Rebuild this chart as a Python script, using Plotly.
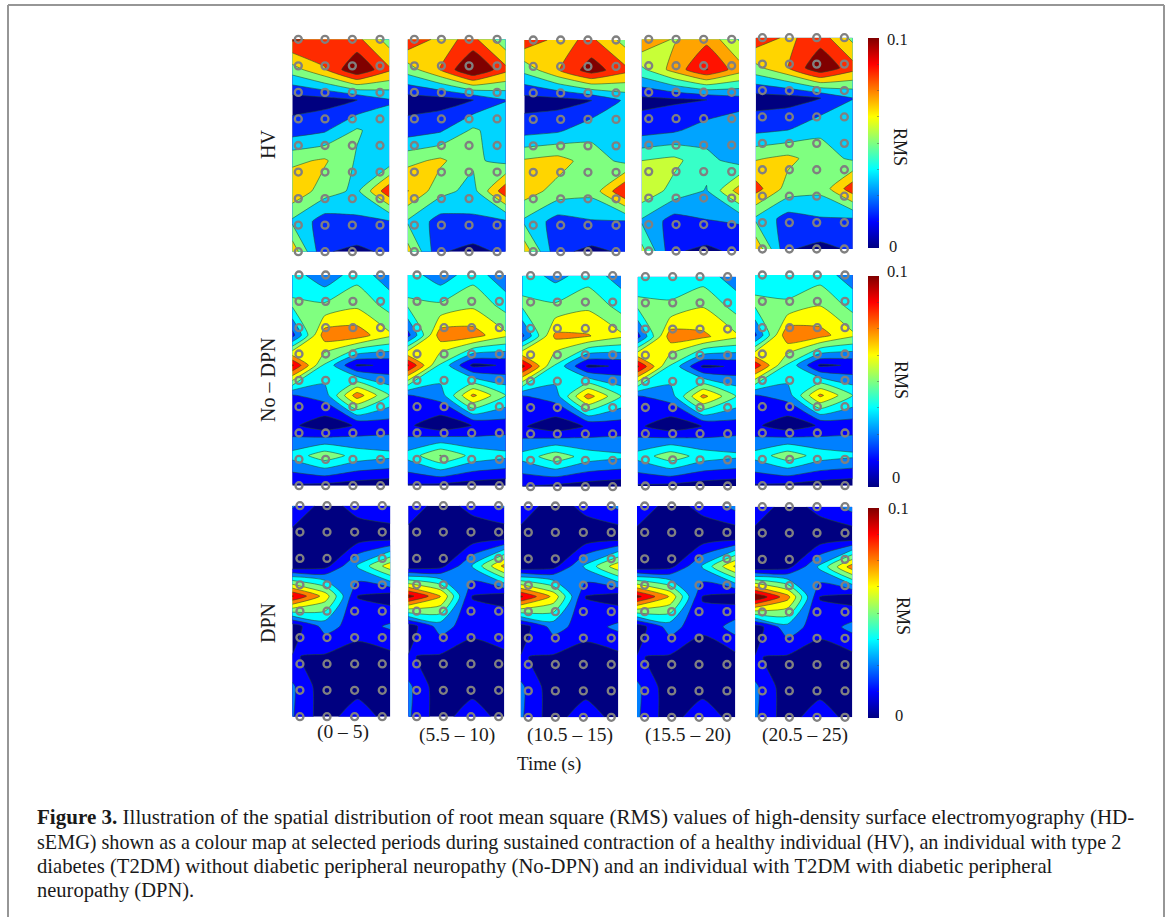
import plotly.graph_objects as go

W, H = 1170, 917

# RMS values x 1000, rows top to bottom, 4 grid columns
HV_0_5 = [[103,95,88,59],[59,82,116,86],[8,10,16,32],[25,31,52,40],[63,69,48,39],[80,58,46,96],[47,25,30,32],[78,18,13,20]]
HV_5_10 = [[97,78,88,55],[58,84,120,88],[8,9,16,33],[25,31,53,39],[62,70,53,45],[84,56,44,95],[48,26,30,31],[74,18,12,20]]
HV_10_15 = [[95,78,87,60],[55,82,109,88],[9,10,16,36],[27,31,45,41],[69,74,58,46],[75,60,55,100],[47,26,32,32],[78,20,13,19]]
HV_15_20 = [[84,70,82,56],[54,77,101,78],[10,12,14,22],[22,26,36,39],[57,61,47,37],[68,52,42,78],[41,22,28,30],[62,16,11,18]]
HV_20_25 = [[94,80,92,62],[62,83,115,90],[9,10,16,33],[27,31,46,40],[65,71,58,47],[90,60,55,94],[47,26,32,32],[80,18,12,19]]

NO_0_5 = [[44,28,45,30],[52,52,60,45],[20,82,82,65],[102,48,11,14],[24,31,82,50],[15,4,14,18],[42,58,45,41],[11,9,6,4]]
NO_5_10 = [[44,30,45,28],[52,52,60,45],[20,82,81,65],[102,48,9,14],[24,31,78,50],[15,3,13,18],[42,63,46,41],[11,9,6,4]]
NO_10_15 = [[46,33,44,32],[52,52,60,45],[22,78,76,65],[104,48,10,14],[24,31,81,50],[14,4,14,18],[42,58,44,40],[12,9,6,4]]
NO_15_20 = [[46,43,44,31],[52,52,62,45],[20,82,78,65],[102,48,10,14],[24,31,79,50],[15,4,13,18],[42,58,44,40],[11,9,6,4]]
NO_20_25 = [[46,42,44,31],[52,52,62,45],[22,85,80,65],[96,48,10,14],[24,31,78,50],[15,4,14,18],[42,58,44,40],[11,9,6,4]]

DPN_0_5 = [[27,6,18,26],[7,5,4,3],[3,8,39,70],[101,70,12,6],[5,30,19,27],[13,11,6,9],[27,4,5,5],[26,5,23,5]]
DPN_5_10 = [[22,6,17,27],[7,5,3,3],[3,8,38,79],[105,77,12,6],[5,31,17,24.5],[13,11,6,9],[28,4,5,5],[27,5,23,5]]
DPN_10_15 = [[22,5,17,28],[7,5,3,3],[3,8,40,71],[102,72,12,6],[5,30,19,28],[13,11,6,9],[28,4,5,5],[27,5,23,5]]
DPN_15_20 = [[24,6,17,29],[7,5,3,3],[3,8,39,77],[104,74,12,6],[5,31,15,31],[13,11,6,9],[28,4,5,5],[27,5,24,5]]
DPN_20_25 = [[22,6,17,30],[7,5,3,3],[3,8,40,82],[112,80,12,6],[5,33,17,29],[13,11,6,9],[28,4,5,5],[27,5,23,5]]

PANELS = [[HV_0_5, HV_5_10, HV_10_15, HV_15_20, HV_20_25],
          [NO_0_5, NO_5_10, NO_10_15, NO_15_20, NO_20_25],
          [DPN_0_5, DPN_5_10, DPN_10_15, DPN_15_20, DPN_20_25]]

# number of contour bands steps per panel
STEPS = [[6, 6, 6, 7, 6], [8]*5, [8]*5]
SMOOTHING = [0.35, 0.45, 0.6]

# electrode columns (fraction of panel width)
ELECTRODES = [
    [[.062,.337,.619,.904],[.068,.344,.626,.912],[.089,.361,.632,.911],[.072,.353,.637,.925],[.069,.347,.629,.914]],
    [[.069,.344,.625,.910],[.095,.371,.653,.935],[.084,.355,.639,.916],[.078,.356,.634,.915],[.075,.355,.638,.921]],
    [[.078,.354,.636,.918],[.087,.365,.653,.941],[.078,.355,.642,.928],[.078,.353,.631,.915],[.075,.353,.637,.925]],
]
ELECTRODE_ROWS = 9

# panel boxes in pixels: x0, x1, y0, y1
BOXES = [
    [(292.3,389.3,39.3,251.7),(407.7,505.7,39.3,251.7),(524.3,625,40,251.7),(641.7,739,39.3,251),(755.7,852.7,37.7,249)],
    [(292.3,389.3,275,485.7),(407.7,505.7,275,485.7),(522.3,621,275.7,486.7),(637.7,736,276.7,486),(755,852.7,275,485.7)],
    [(292.3,390.3,505.7,716.7),(408.3,504.3,505.7,716.7),(520.7,618.3,506,717.3),(637,735.3,506,717.3),(755,852.3,506.7,717.3)],
]

BAR_BOXES = [(868,879,38,248),(868,879,276,487),(868,879,508,718)]
JET = [[0,'rgb(0,0,128)'],[.125,'rgb(0,0,255)'],[.375,'rgb(0,255,255)'],[.625,'rgb(255,255,0)'],[.875,'rgb(255,0,0)'],[1,'rgb(128,0,0)']]

ROW_LABELS = [("HV",268,145),("No – DPN",268,380),("DPN",268,623)]
TIME_LABELS = [("(0 – 5)",343,732),("(5.5 – 10)",457,735),("(10.5 – 15)",570,735),("(15.5 – 20)",688,735),("(20.5 – 25)",805,735)]
BAR_TOP = [("0.1",897,40),("0.1",897,272),("0.1",898,508)]
BAR_BOTTOM = [("0",893,246),("0",896,478),("0",899,715)]
BAR_TITLE = [("RMS",900,147),("RMS",901,380),("RMS",903,616)]
CAPTION = [
    "<b>Figure 3.</b> Illustration of the spatial distribution of root mean square (RMS) values of high-density surface electromyography (HD-",
    "sEMG) shown as a colour map at selected periods during sustained contraction of a healthy individual (HV), an individual with type 2",
    "diabetes (T2DM) without diabetic peripheral neuropathy (No-DPN) and an individual with T2DM with diabetic peripheral",
    "neuropathy (DPN).",
]
CAPTION_Y = [817, 842, 866, 890]
CAPTION_SIZE = [21.05, 20.2, 20.7, 20.5]

SERIF = "Liberation Serif"
fig = go.Figure()
layout = dict(width=W, height=H, margin=dict(l=0, r=0, t=0, b=0, pad=0),
              paper_bgcolor="white", plot_bgcolor="white", showlegend=False)

def px(x): return x / W
def py(y): return 1 - y / H

k = 0
for r, row in enumerate(PANELS):
    for c, z in enumerate(row):
        k += 1
        x0, x1, y0, y1 = BOXES[r][c]
        sfx = "" if k == 1 else str(k)
        layout["xaxis" + sfx] = dict(domain=[px(x0), px(x1)], range=[0, 3], visible=False, anchor="y" + sfx, fixedrange=True)
        layout["yaxis" + sfx] = dict(domain=[py(y1), py(y0)], range=[7, 0], visible=False, anchor="x" + sfx, fixedrange=True)
        n = STEPS[r][c]
        step = 100 / n
        fig.add_trace(go.Contour(
            z=z, x=[0, 1, 2, 3], y=list(range(8)), xaxis="x" + sfx, yaxis="y" + sfx,
            autocontour=False, colorscale=JET, showscale=False, hoverinfo="skip",
            contours=dict(start=step, end=100 + 1e-6, size=step, coloring="fill"),
            line=dict(color="rgba(35,75,45,0.7)", width=0.8, smoothing=SMOOTHING[r]),
        ))
        ex, ey = [], []
        for i in range(ELECTRODE_ROWS):
            for f in ELECTRODES[r][c]:
                ex.append(3 * f)
                ey.append(7 * i / (ELECTRODE_ROWS - 1))
        fig.add_trace(go.Scatter(
            x=ex, y=ey, xaxis="x" + sfx, yaxis="y" + sfx, mode="markers", cliponaxis=False, hoverinfo="skip",
            marker=dict(symbol="circle-open", size=7, color="rgb(128,128,128)", line=dict(width=2.3, color="rgb(128,128,128)")),
        ))

# colour bars
for r, (bx0, bx1, by0, by1) in enumerate(BAR_BOXES):
    fig.add_trace(go.Scatter(
        x=[None, None], y=[None, None], xaxis="x", yaxis="y", mode="markers", hoverinfo="skip",
        marker=dict(color=[0, 0.1], cmin=0, cmax=0.1, colorscale=JET, showscale=True, size=1,
                    colorbar=dict(x=px(bx0), xanchor="left", xpad=0, ypad=0, y=py((by0 + by1) / 2), yanchor="middle",
                                  thickness=bx1 - bx0, thicknessmode="pixels", len=by1 - by0, lenmode="pixels",
                                  outlinewidth=0, borderwidth=0, showticklabels=False, ticks="inside", ticklen=2,
                                  tickwidth=1, tickcolor="rgba(70,70,70,0.45)", tickmode="array",
                                  tickvals=[0.0125 * i for i in range(1, 8)])),
    ))

anns = []
def text(t, x, y, size=19.5, xanchor="center", angle=0):
    anns.append(dict(text=t, x=px(x), y=py(y), xref="paper", yref="paper", showarrow=False, xanchor=xanchor,
                     yanchor="middle", textangle=angle, align="left",
                     font=dict(family=SERIF, size=size, color="#1a1a1a")))
for t, x, y in ROW_LABELS:
    text(t, x, y, size=20, angle=-90)
for t, x, y in TIME_LABELS:
    text(t, x, y)
text("Time (s)", 549, 764, size=19)
for t, x, y in BAR_TOP + BAR_BOTTOM:
    text(t, x, y, size=16.5)
for t, x, y in BAR_TITLE:
    text(t, x, y, size=18, angle=90)
for t, y, s in zip(CAPTION, CAPTION_Y, CAPTION_SIZE):
    text(t, 35, y, size=s, xanchor="left")
layout["annotations"] = anns

frame = dict(type="line", xref="paper", yref="paper", line=dict(color="rgb(150,150,150)", width=2))
layout["shapes"] = [
    dict(frame, x0=px(8), x1=px(1164), y0=py(5), y1=py(5)),
    dict(frame, x0=px(8), x1=px(8), y0=py(5), y1=py(917)),
    dict(frame, x0=px(1164), x1=px(1164), y0=py(5), y1=py(917)),
]
fig.update_layout(**layout)
fig.write_html("out.html", config=dict(displayModeBar=False),
               post_script="document.body.style.margin='0';document.body.style.overflow='hidden';")
